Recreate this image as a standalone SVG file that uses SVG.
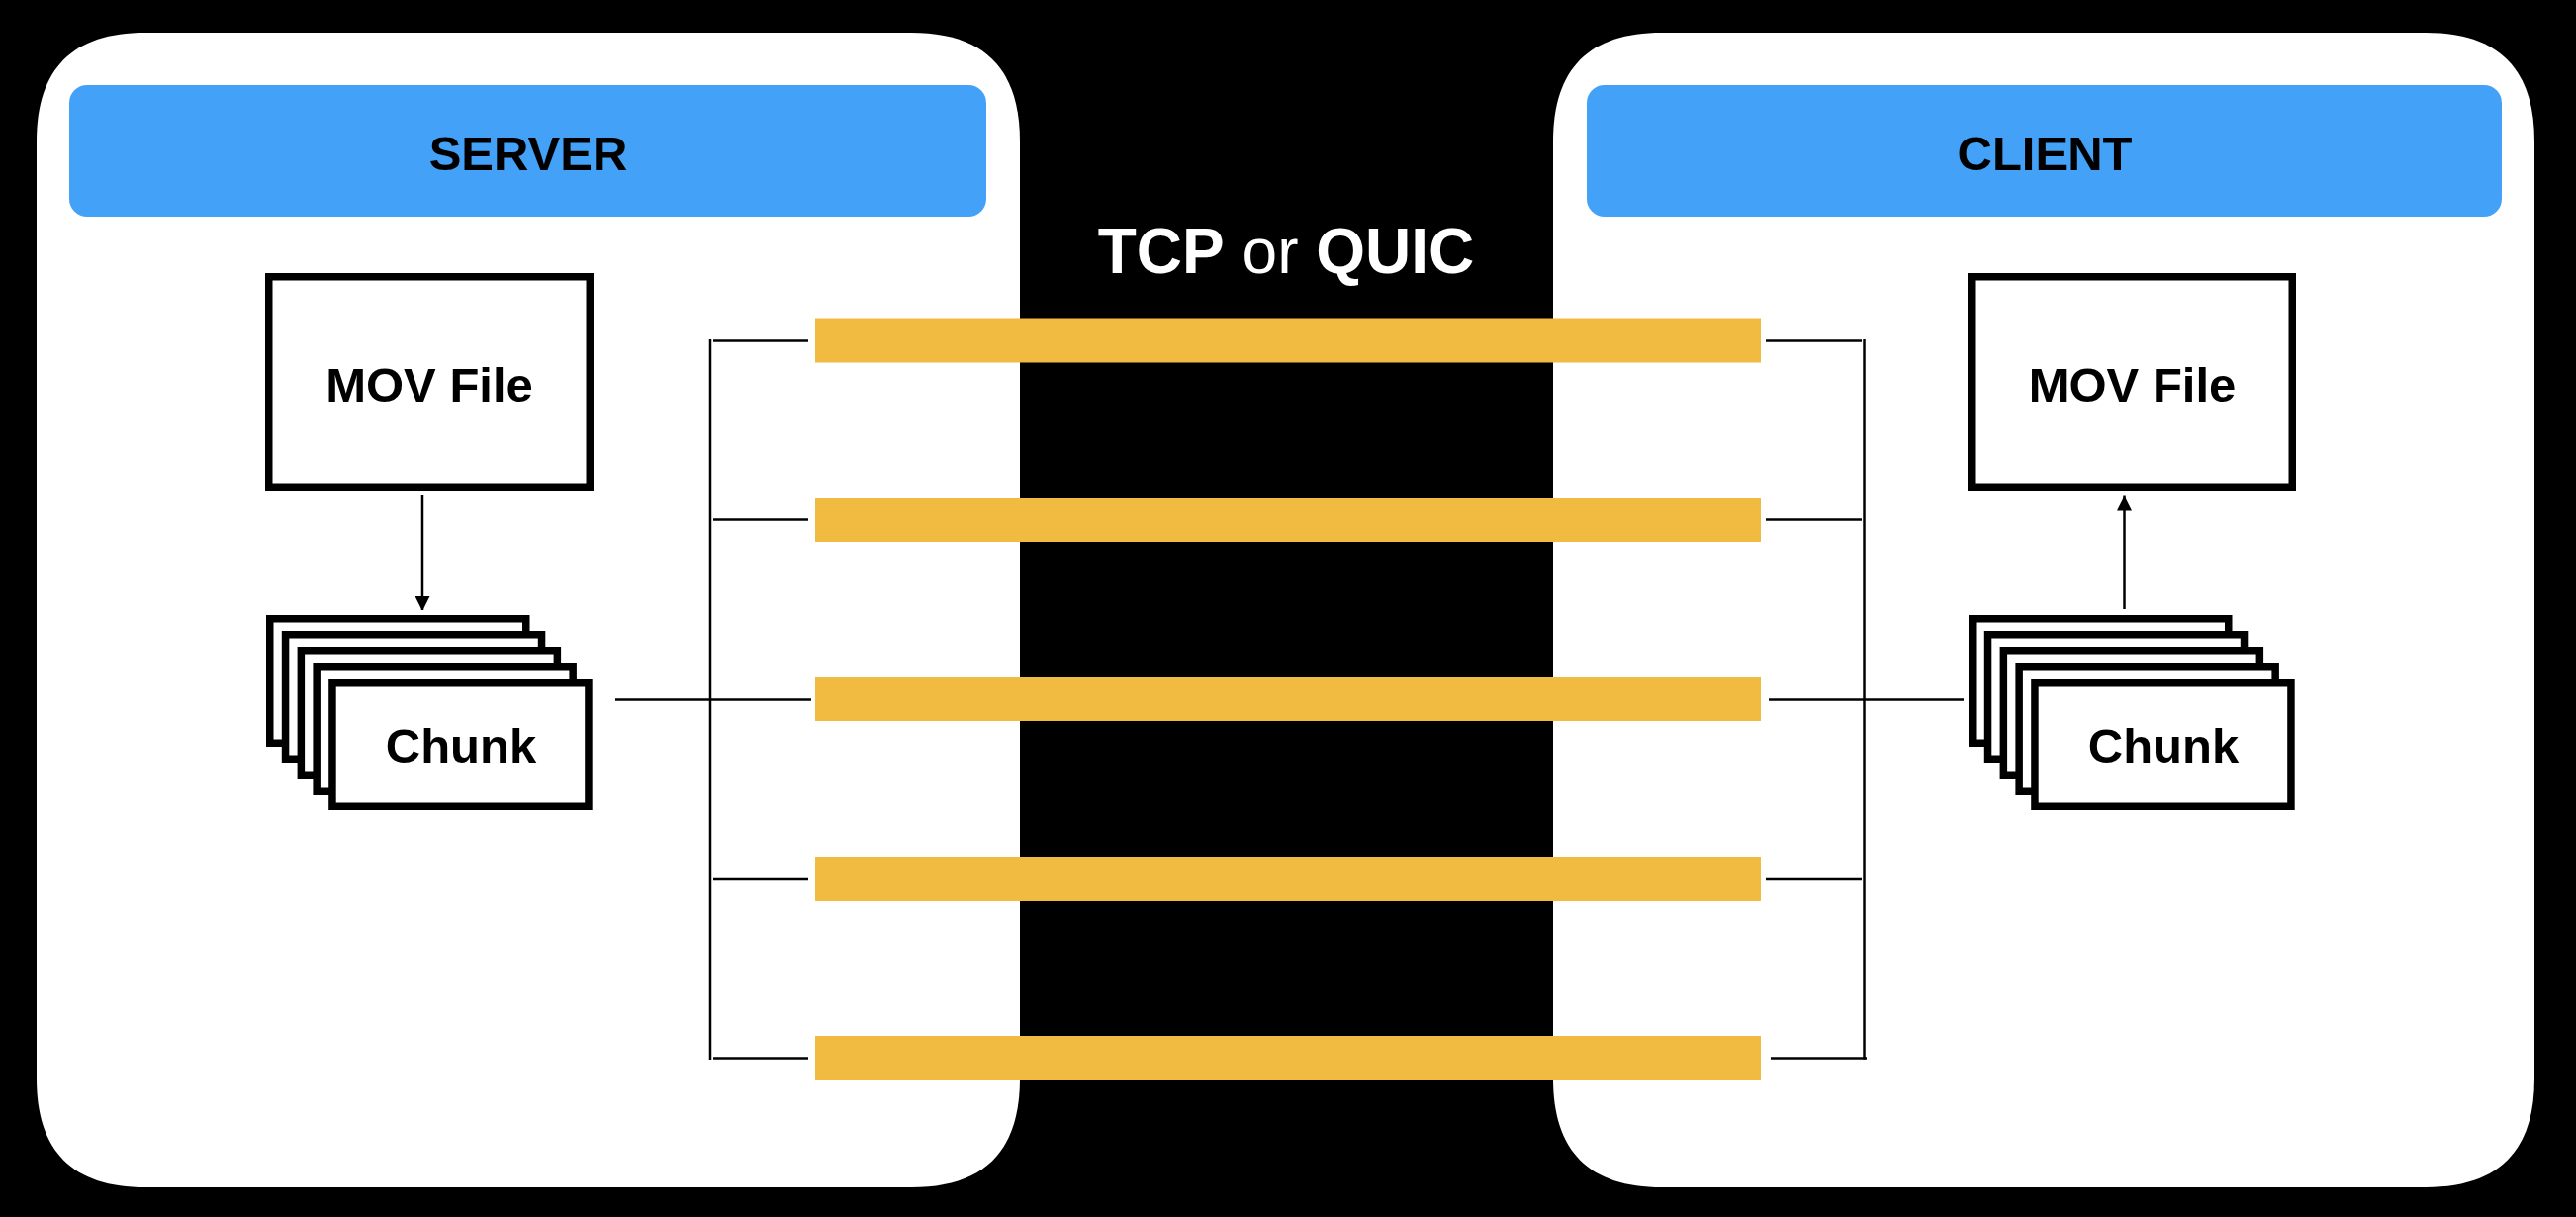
<svg xmlns="http://www.w3.org/2000/svg" width="2604" height="1230" viewBox="0 0 2604 1230">
  <style>
    .panel { fill: #ffffff; }
    .header { fill: #43A2F7; }
    .bar { fill: #F1BA41; }
    .box { fill: #ffffff; stroke: #000000; stroke-width: 7.5; }
    .lbl { font-family: "Liberation Sans", Arial, Helvetica, sans-serif; font-weight: bold; fill: #000000; text-anchor: middle; }
    .conn { stroke: #000000; stroke-width: 2.5; fill: none; }
  </style>
  <defs>
    <marker id="arrow" markerUnits="userSpaceOnUse" markerWidth="15" markerHeight="15" refX="15" refY="7.5" orient="auto">
      <path d="M0,0 L15,7.5 L0,15 Z" fill="#000000"/>
    </marker>
  </defs>

  <rect x="0" y="0" width="2604" height="1230" fill="#000000"/>

  <g id="server-panel">
    <path class="panel" d="M147,33 H921 C994.7,33 1031,69.3 1031,143 V1090 C1031,1163.7 994.7,1200 921,1200 H147 C73.3,1200 37,1163.7 37,1090 V143 C37,69.3 73.3,33 147,33 Z"/>
    <rect class="header" x="70" y="86" width="927" height="133" rx="18"/>
    <text class="lbl" x="534" y="172" font-size="49">SERVER</text>
  </g>

  <g id="client-panel">
    <path class="panel" d="M1680,33 H2452 C2525.7,33 2562,69.3 2562,143 V1090 C2562,1163.7 2525.7,1200 2452,1200 H1680 C1606.3,1200 1570,1163.7 1570,1090 V143 C1570,69.3 1606.3,33 1680,33 Z"/>
    <rect class="header" x="1604" y="86" width="925" height="133" rx="18"/>
    <text class="lbl" x="2067" y="172" font-size="49">CLIENT</text>
  </g>

  <g id="protocol-label">
    <text x="1300" y="276" font-size="64" font-family="'Liberation Sans', Arial, Helvetica, sans-serif" fill="#ffffff" text-anchor="middle"><tspan font-weight="bold">TCP</tspan> or <tspan font-weight="bold">QUIC</tspan></text>
  </g>

  <g id="connections">
    <rect class="bar" x="824" y="321.5" width="956" height="45"/>
    <rect class="bar" x="824" y="503" width="956" height="45"/>
    <rect class="bar" x="824" y="684" width="956" height="45"/>
    <rect class="bar" x="824" y="866" width="956" height="45"/>
    <rect class="bar" x="824" y="1047" width="956" height="45"/>
  </g>

  <g id="server-mov">
    <rect class="box" x="271.75" y="279.75" width="324.5" height="212.5"/>
    <text class="lbl" x="434" y="406" font-size="49">MOV File</text>
  </g>

  <g id="server-chunks">
    <rect class="box" x="272.75" y="625.75" width="259" height="125.5"/>
    <rect class="box" x="288.55" y="641.75" width="259" height="125.5"/>
    <rect class="box" x="304.35" y="657.75" width="259" height="125.5"/>
    <rect class="box" x="320.15" y="673.75" width="259" height="125.5"/>
    <rect class="box" x="335.95" y="689.75" width="259" height="125.5"/>
    <text class="lbl" x="466" y="771" font-size="49">Chunk</text>
  </g>

  <g id="client-mov">
    <rect class="box" x="1992.75" y="279.75" width="324.5" height="212.5"/>
    <text class="lbl" x="2155.5" y="406" font-size="49">MOV File</text>
  </g>

  <g id="client-chunks">
    <rect class="box" x="1993.75" y="625.75" width="259" height="125.5"/>
    <rect class="box" x="2009.55" y="641.75" width="259" height="125.5"/>
    <rect class="box" x="2025.35" y="657.75" width="259" height="125.5"/>
    <rect class="box" x="2041.15" y="673.75" width="259" height="125.5"/>
    <rect class="box" x="2056.95" y="689.75" width="259" height="125.5"/>
    <text class="lbl" x="2187" y="771" font-size="49">Chunk</text>
  </g>

  <g id="connectors">
    <line class="conn" x1="427" y1="500" x2="427" y2="617" marker-end="url(#arrow)"/>
    <line class="conn" x1="2147.5" y1="616" x2="2147.5" y2="500.5" marker-end="url(#arrow)"/>

    <line class="conn" x1="718" y1="343" x2="718" y2="1071"/>
    <line class="conn" x1="721" y1="344.5" x2="817" y2="344.5"/>
    <line class="conn" x1="721" y1="525.5" x2="817" y2="525.5"/>
    <line class="conn" x1="622" y1="706.5" x2="820" y2="706.5"/>
    <line class="conn" x1="721" y1="888" x2="817" y2="888"/>
    <line class="conn" x1="721" y1="1069.5" x2="817" y2="1069.5"/>

    <line class="conn" x1="1884.5" y1="343" x2="1884.5" y2="1070.5"/>
    <line class="conn" x1="1785" y1="344.5" x2="1882" y2="344.5"/>
    <line class="conn" x1="1785" y1="525.5" x2="1882" y2="525.5"/>
    <line class="conn" x1="1788" y1="706.5" x2="1985" y2="706.5"/>
    <line class="conn" x1="1785" y1="888" x2="1882" y2="888"/>
    <line class="conn" x1="1790" y1="1069.5" x2="1887" y2="1069.5"/>
  </g>
</svg>
